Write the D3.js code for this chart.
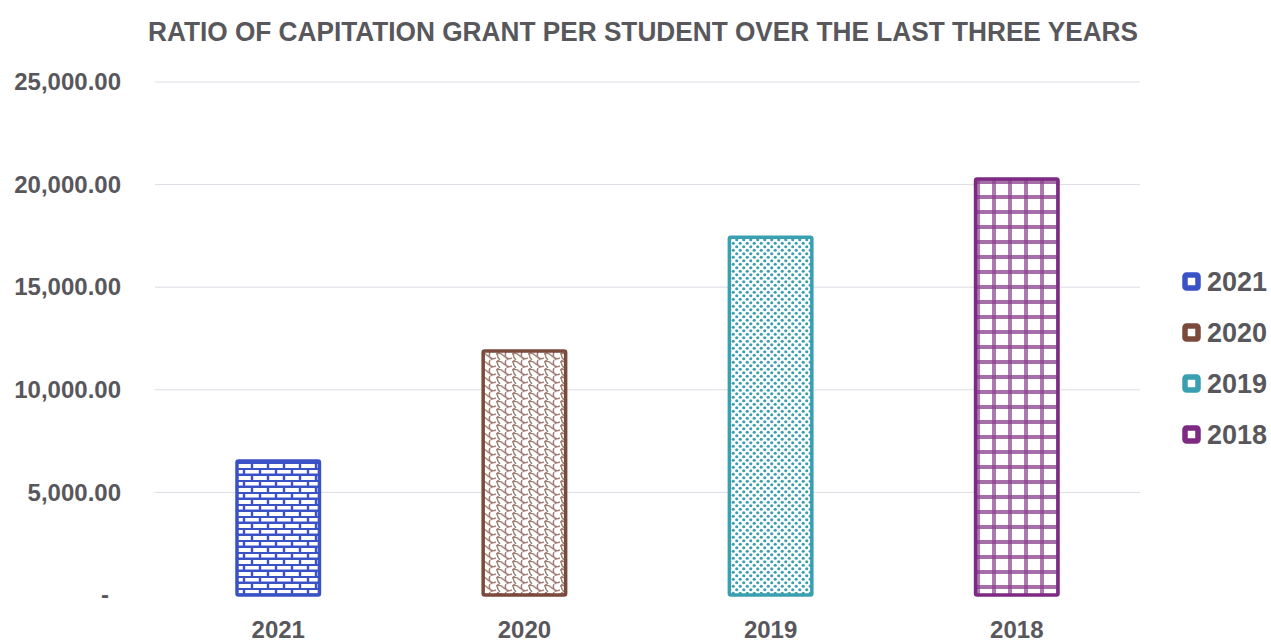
<!DOCTYPE html>
<html><head><meta charset="utf-8">
<script src="https://cdn.jsdelivr.net/npm/d3@7"></script>
<style>body{margin:0;background:#fff;} svg{display:block;}</style>
</head><body>
<svg id="c" width="1271" height="643"></svg>
<script>
const categories = ["2021","2020","2019","2018"];
const values = [6530, 11890, 17440, 20270];
const yTicks = [0, 5000, 10000, 15000, 20000, 25000];
const colors = ["#3a52c6","#7b4a3c","#3a9fb0","#7d2a82"];
const title = "RATIO OF CAPITATION GRANT PER STUDENT OVER THE LAST THREE YEARS";

const svg = d3.select("#c");
const M = {left:155, right:1140, top:82, bottom:595};
const x = d3.scaleBand().domain(categories).range([M.left, M.right]).paddingInner(0.665).paddingOuter(0.333);
const y = d3.scaleLinear().domain([0,25000]).range([M.bottom, M.top]);
const textCol = "#58575c";
const font = "'Liberation Sans', Arial, sans-serif";

// patterns
const defs = svg.append("defs");
// bricks
let p = defs.append("pattern").attr("id","p0").attr("patternUnits","userSpaceOnUse").attr("width",16).attr("height",12);
p.append("rect").attr("width",16).attr("height",12).attr("fill","#fff");
p.append("path").attr("d","M0,0.8H16M0,6.8H16M4,0V6M12,6V12").attr("stroke",colors[0]).attr("stroke-width",2.4).attr("fill","none");
// weave
p = defs.append("pattern").attr("id","p1").attr("patternUnits","userSpaceOnUse").attr("width",16).attr("height",16);
p.append("rect").attr("width",16).attr("height",16).attr("fill","#fff");
p.append("path").attr("d","M0,2 Q4,0 8,4 T16,6 M0,10 Q4,8 8,12 T16,14 M2,0 Q0,4 4,8 M10,0 Q8,4 12,8 M2,8 Q0,12 4,16 M10,8 Q8,12 12,16")
  .attr("stroke",colors[1]).attr("stroke-width",1.5).attr("fill","none").attr("opacity",0.7);
// dots
p = defs.append("pattern").attr("id","p2").attr("patternUnits","userSpaceOnUse").attr("width",7).attr("height",7);
p.append("rect").attr("width",7).attr("height",7).attr("fill","#fff");
p.append("circle").attr("cx",1.75).attr("cy",1.75).attr("r",1.6).attr("fill",colors[2]);
p.append("circle").attr("cx",5.25).attr("cy",5.25).attr("r",1.6).attr("fill",colors[2]);
// grid
p = defs.append("pattern").attr("id","p3").attr("patternUnits","userSpaceOnUse").attr("width",16).attr("height",15);
p.append("rect").attr("width",16).attr("height",15).attr("fill","#fff");
p.append("path").attr("d","M1,0V15M3,0V15M0,1H16M0,3H16").attr("stroke",colors[3]).attr("stroke-width",1.4).attr("fill","none").attr("opacity",0.9);

// gridlines
svg.append("g").selectAll("line").data(yTicks.filter(d=>d>0)).join("line")
  .attr("x1",M.left).attr("x2",M.right).attr("y1",d=>y(d)).attr("y2",d=>y(d))
  .attr("stroke","#dcdce6").attr("stroke-width",1);

// y axis
const yAxis = d3.axisLeft(y).tickValues(yTicks).tickSize(0).tickPadding(0)
  .tickFormat(d=> d===0 ? "-" : d3.format(",.2f")(d));
const ya = svg.append("g").attr("transform","translate(121,0)").call(yAxis);
ya.select(".domain").remove();
ya.selectAll("text").attr("font-family",font).attr("font-size",24).attr("font-weight","bold").attr("fill",textCol);
ya.selectAll(".tick").filter(d=>d===0).select("text").attr("dx",-12);

// x axis
const xAxis = d3.axisBottom(x).tickSize(0).tickPadding(0);
const xa = svg.append("g").attr("transform",`translate(0,${M.bottom+26})`).call(xAxis);
xa.select(".domain").remove();
xa.selectAll("text").attr("font-family",font).attr("font-size",24).attr("font-weight","bold").attr("fill",textCol);

// bars
svg.append("g").selectAll("rect").data(categories).join("rect")
  .attr("x",d=>x(d)).attr("width",x.bandwidth())
  .attr("y",(d,i)=>y(values[i])).attr("height",(d,i)=>y(0)-y(values[i]))
  .attr("fill",(d,i)=>`url(#p${i})`).attr("stroke",(d,i)=>colors[i]).attr("stroke-width",3.5).attr("rx",1.5);

// title
svg.append("text").attr("x",643).attr("y",41).attr("text-anchor","middle")
  .attr("font-family",font).attr("font-size",27).attr("font-weight","bold").attr("fill",textCol)
  .attr("textLength",990).attr("lengthAdjust","spacingAndGlyphs")
  .text(title);

// legend
const lg = svg.append("g").selectAll("g").data(categories).join("g")
  .attr("transform",(d,i)=>`translate(1185,${281+i*51})`);
lg.append("rect").attr("x",0).attr("y",-6).attr("width",13).attr("height",13)
  .attr("fill","#fff").attr("stroke",(d,i)=>colors[i]).attr("stroke-width",5.5).attr("rx",1.5);
lg.append("text").attr("x",22).attr("y",10).attr("font-family",font).attr("font-size",27).attr("font-weight","bold").attr("fill",textCol).text(d=>d);
</script>
</body></html>
